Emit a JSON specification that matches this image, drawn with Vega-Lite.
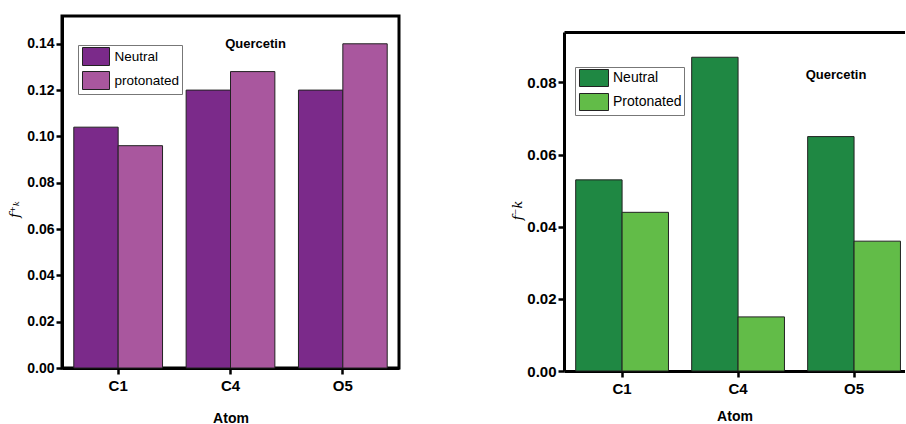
{
  "$schema": "https://vega.github.io/schema/vega-lite/v6.json",
  "padding": {"left": 7, "top": 3, "right": 0, "bottom": 0},
  "background": "white",
  "datasets": {
    "left": [
      {"atom": "C1", "state": "Neutral", "v": 0.104},
      {"atom": "C1", "state": "protonated", "v": 0.096},
      {"atom": "C4", "state": "Neutral", "v": 0.120},
      {"atom": "C4", "state": "protonated", "v": 0.128},
      {"atom": "O5", "state": "Neutral", "v": 0.120},
      {"atom": "O5", "state": "protonated", "v": 0.140}
    ],
    "right": [
      {"atom": "C1", "state": "Neutral", "v": 0.053},
      {"atom": "C1", "state": "Protonated", "v": 0.044},
      {"atom": "C4", "state": "Neutral", "v": 0.087},
      {"atom": "C4", "state": "Protonated", "v": 0.015},
      {"atom": "O5", "state": "Neutral", "v": 0.065},
      {"atom": "O5", "state": "Protonated", "v": 0.036}
    ],
    "leftLabel": [{"atom": "C4", "v": 0.140, "label": "Quercetin"}],
    "rightLabel": [{"atom": "O5", "v": 0.082, "label": "Quercetin"}],
    "blank": [{"k": 1}]
  },
  "spacing": 110,
  "resolve": {"scale": {"color": "independent", "xOffset": "independent"}, "legend": {"color": "independent"}},
  "hconcat": [
    {
      "width": 337,
      "height": 352,
      "view": {"stroke": "black", "strokeWidth": 3},
      "layer": [
        {
          "data": {"name": "left"},
          "mark": {"type": "bar", "stroke": "#222", "strokeWidth": 1},
          "encoding": {
            "x": {"field": "atom", "type": "nominal", "sort": null,
              "scale": {"paddingInner": 0.21, "paddingOuter": 0.105},
              "axis": {"title": "Atom", "labelAngle": 0, "labelFontSize": 15, "tickSize": 6, "labelPadding": 4, "titleFont": "Liberation Sans", "titleFontSize": 14, "titleFontWeight": "bold", "titlePadding": 18}},
            "xOffset": {"field": "state", "sort": ["Neutral", "protonated"]},
            "y": {"field": "v", "type": "quantitative",
              "scale": {"domain": [0, 0.152], "nice": false, "zero": true},
              "axis": {"values": [0, 0.01, 0.02, 0.03, 0.04, 0.05, 0.06, 0.07, 0.08, 0.09, 0.10, 0.11, 0.12, 0.13, 0.14, 0.15],
                "labelExpr": "round(datum.value*100)%2==0 ? format(datum.value,'.2f') : ''",
                "labelOverlap": false,
                "tickSize": {"condition": {"test": "round(datum.value*100)%2==1", "value": 3}, "value": 6},
                "labelFontSize": 14, "labelPadding": 2,
                "title": "f⁺ₖ", "titleFont": "DejaVu Serif", "titleFontStyle": "italic", "titleFontWeight": "normal", "titleFontSize": 13, "titlePadding": 5, "titleY": 193}},
            "color": {"field": "state", "type": "nominal",
              "scale": {"domain": ["Neutral", "protonated"], "range": ["#7B2A8A", "#A9579E"]},
              "legend": {"title": null, "orient": "none", "legendX": 16, "legendY": 29, "symbolType": "M-1.5,-1H1.5V1H-1.5Z", "symbolSize": 324, "symbolOffset": 6.5, "symbolStrokeColor": "#222", "symbolStrokeWidth": 1, "symbolOpacity": 1, "labelFont": "Liberation Sans", "labelFontSize": 13.5, "labelColor": "black", "labelOffset": 9, "strokeColor": "#777", "fillColor": "white", "padding": 2, "rowPadding": 1}}
          }
        },
        {
          "data": {"name": "leftLabel"},
          "mark": {"type": "text", "font": "Liberation Sans", "fontSize": 13, "fontWeight": "bold", "color": "black", "dx": 25, "baseline": "middle"},
          "encoding": {
            "x": {"field": "atom", "type": "nominal", "sort": null},
            "y": {"field": "v", "type": "quantitative"},
            "text": {"field": "label"}
          }
        }
      ]
    },
    {
      "spacing": -19,
      "vconcat": [
        {
          "width": 341,
          "height": 1,
          "data": {"name": "blank"},
          "mark": {"type": "text", "text": ""}
        },
        {
          "width": 341,
          "height": 339,
          "layer": [
            {
              "data": {"name": "right"},
              "mark": {"type": "bar", "stroke": "#222", "strokeWidth": 1},
              "encoding": {
                "x": {"field": "atom", "type": "nominal", "sort": null,
                  "scale": {"paddingInner": 0.2, "paddingOuter": 0.07, "align": 0.72},
                  "axis": {"title": "Atom", "labelAngle": 0, "labelFontSize": 15, "tickSize": 6, "labelPadding": 4, "titleFont": "Liberation Sans", "titleFontSize": 14, "titleFontWeight": "bold", "titlePadding": 13}},
                "xOffset": {"field": "state", "sort": ["Neutral", "Protonated"]},
                "y": {"field": "v", "type": "quantitative",
                  "scale": {"domain": [0, 0.094], "nice": false, "zero": true},
                  "axis": {"values": [0, 0.01, 0.02, 0.03, 0.04, 0.05, 0.06, 0.07, 0.08, 0.09],
                    "labelExpr": "round(datum.value*100)%2==0 ? format(datum.value,'.2f') : ''",
                    "labelOverlap": false,
                    "tickSize": {"condition": {"test": "round(datum.value*100)%2==1", "value": 3}, "value": 6},
                    "labelFontSize": 15, "labelPadding": 2,
                    "title": "f⁻k", "titleFont": "DejaVu Serif", "titleFontStyle": "italic", "titleFontWeight": "normal", "titleFontSize": 13, "titlePadding": 2, "titleY": 178}},
                "color": {"field": "state", "type": "nominal",
                  "scale": {"domain": ["Neutral", "Protonated"], "range": ["#1F8843", "#62BC48"]},
                  "legend": {"title": null, "orient": "none", "legendX": 11, "legendY": 51, "symbolType": "M-1.706,-1H1.706V1H-1.706Z", "symbolSize": 289, "symbolOffset": 8, "symbolStrokeColor": "#222", "symbolStrokeWidth": 1, "symbolOpacity": 1, "labelFont": "Liberation Sans", "labelFontSize": 14, "labelColor": "black", "labelOffset": 10, "strokeColor": "#777", "fillColor": "white", "padding": 2, "rowPadding": 2}}
              }
            },
            {
              "data": {"name": "right"},
              "mark": {"type": "bar", "opacity": 0},
              "encoding": {
                "x": {"field": "atom", "type": "nominal", "sort": null,
                  "axis": {"orient": "top", "labels": false, "ticks": false, "domain": true, "title": null}},
                "y": {"field": "v", "type": "quantitative"}
              }
            },
            {
              "data": {"name": "rightLabel"},
              "mark": {"type": "text", "font": "Liberation Sans", "fontSize": 13, "fontWeight": "bold", "color": "black", "dx": -18, "baseline": "middle"},
              "encoding": {
                "x": {"field": "atom", "type": "nominal", "sort": null, "axis": null},
                "y": {"field": "v", "type": "quantitative"},
                "text": {"field": "label"}
              }
            }
          ],
          "resolve": {"axis": {"x": "independent"}}
        }
      ]
    }
  ],
  "config": {
    "view": {"stroke": null},
    "font": "Liberation Sans",
    "axis": {"domainColor": "black", "domainWidth": 3, "tickColor": "black", "tickWidth": 2.5, "labelFont": "Liberation Sans", "labelFontWeight": "bold", "labelColor": "black", "titleColor": "black", "grid": false}
  }
}
